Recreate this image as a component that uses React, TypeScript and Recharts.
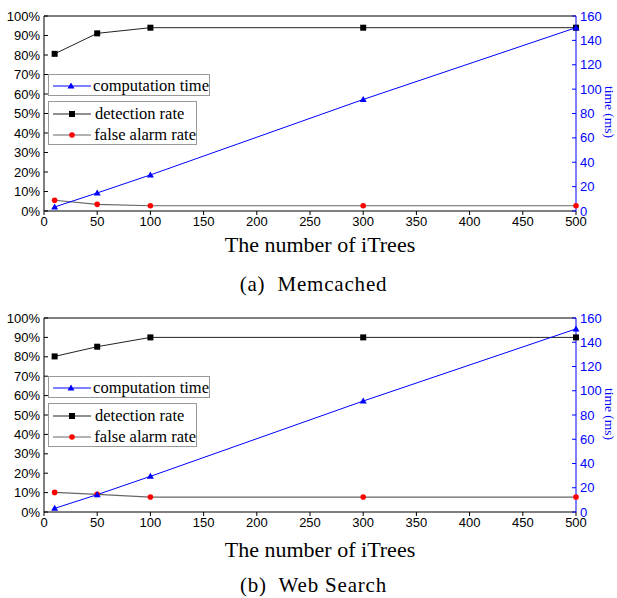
import React from 'react';
import { LineChart, Line, XAxis, YAxis, ReferenceLine } from 'recharts';

// number of iTrees
const treeCounts = [10, 50, 100, 300, 500];

// (a) Memcached
const memDetection = [80.6, 91.1, 94, 94, 94];
const memFalseAlarm = [5.5, 3.4, 2.7, 2.7, 2.7];
const memTime = [3.3, 14.8, 29.6, 91.5, 150.4];

// (b) Web Search
const webDetection = [80.2, 85.2, 90, 90, 90];
const webFalseAlarm = [10.1, 9.1, 7.7, 7.7, 7.7];
const webTime = [3, 14.3, 29.4, 91.5, 151];

const xTicks = [0, 50, 100, 150, 200, 250, 300, 350, 400, 450, 500];
const xMinorTicks = [25, 75, 125, 175, 225, 275, 325, 375, 425, 475];
const rateTicks = [0, 10, 20, 30, 40, 50, 60, 70, 80, 90, 100];
const rateMinorTicks = [5, 15, 25, 35, 45, 55, 65, 75, 85, 95];
const timeTicks = [0, 20, 40, 60, 80, 100, 120, 140, 160];
const timeMinorTicks = [10, 30, 50, 70, 90, 110, 130, 150];

const BLUE = '#0000ff';
const sans = '"Liberation Sans", Arial, sans-serif';
const serif = '"Liberation Serif", "Times New Roman", serif';
const blank = () => '';

const SquareDot = (p: any) => (
  <rect key={p.key} x={p.cx - 3} y={p.cy - 3} width={6} height={6} fill="#000" />
);
const CircleDot = (p: any) => <circle key={p.key} cx={p.cx} cy={p.cy} r={2.8} fill="#ff0000" />;
const TriangleDot = (p: any) => (
  <path key={p.key} d={`M${p.cx},${p.cy - 3.5}L${p.cx + 3.5},${p.cy + 2.5}L${p.cx - 3.5},${p.cy + 2.5}Z`} fill={BLUE} />
);

const LegendRow: React.FC<{ color: string; marker: React.ReactNode; label: string }> = ({ color, marker, label }) => (
  <div style={{ display: 'flex', alignItems: 'center', height: 21 }}>
    <svg width={42} height={10} style={{ marginLeft: 2 }}>
      <line x1={2} y1={5} x2={40} y2={5} stroke={color} strokeWidth={1.2} />
      {marker}
    </svg>
    <span style={{ fontFamily: serif, fontSize: 16.5, marginLeft: 2, whiteSpace: 'nowrap' }}>{label}</span>
  </div>
);

const Legends: React.FC<{ top: number }> = ({ top }) => (
  <>
    <div style={{ position: 'absolute', left: 48, top, width: 162, height: 22, border: '1px solid #999', boxSizing: 'border-box' }}>
      <LegendRow color={BLUE} label="computation time" marker={<path d="M20,1.5L23.5,7.5L16.5,7.5Z" fill={BLUE} />} />
    </div>
    <div style={{ position: 'absolute', left: 48, top: top + 27, width: 149, height: 44, border: '1px solid #999', boxSizing: 'border-box', paddingTop: 1 }}>
      <LegendRow color="#222" label="detection rate" marker={<rect x={18} y={2} width={6} height={6} fill="#000" />} />
      <LegendRow color="#666" label="false alarm rate" marker={<circle cx={21} cy={5} r={2.8} fill="#ff0000" />} />
    </div>
  </>
);

const Panel: React.FC<{
  top: number;
  height: number;
  marginTop: number;
  marginBottom: number;
  detection: number[];
  falseAlarm: number[];
  time: number[];
  caption: string;
  legendTop: number;
  titleTop: number;
  captionTop: number;
}> = ({ top, height, marginTop, marginBottom, detection, falseAlarm, time, caption, legendTop, titleTop, captionTop }) => {
  const data = treeCounts.map((n, i) => ({
    n,
    detection: detection[i],
    falseAlarm: falseAlarm[i],
    time: time[i],
  }));
  return (
    <div style={{ position: 'absolute', left: 0, top, width: 617, height }}>
      <LineChart width={617} height={height} data={data} margin={{ top: marginTop, right: 0, bottom: marginBottom, left: 0 }}>
        {/* minor ticks */}
        <XAxis
          xAxisId="minor"
          type="number"
          domain={[0, 500]}
          ticks={xMinorTicks}
          height={0}
          axisLine={false}
          stroke="#000"
          tickSize={2}
          tickFormatter={blank}
          interval={0}
        />
        <YAxis
          yAxisId="rateMinor"
          domain={[0, 100]}
          ticks={rateMinorTicks}
          width={0}
          axisLine={false}
          stroke="#000"
          tickSize={-2}
          tickFormatter={blank}
          interval={0}
        />
        <YAxis
          yAxisId="timeMinor"
          orientation="right"
          domain={[0, 160]}
          ticks={timeMinorTicks}
          width={0}
          axisLine={false}
          stroke={BLUE}
          tickSize={-2}
          tickFormatter={blank}
          interval={0}
        />
        <XAxis
          dataKey="n"
          type="number"
          domain={[0, 500]}
          ticks={xTicks}
          height={30}
          stroke="#000"
          tickSize={4}
          tick={{ fill: '#000', fontSize: 13, fontFamily: sans }}
          interval={0}
        />
        <YAxis
          yAxisId="rate"
          domain={[0, 100]}
          ticks={rateTicks}
          width={44}
          stroke="#000"
          tickSize={-4}
          tickMargin={8}
          interval={0}
          tickFormatter={(v) => `${v}%`}
          tick={{ fill: '#000', fontSize: 13, fontFamily: sans }}
        />
        <YAxis
          yAxisId="time"
          orientation="right"
          domain={[0, 160]}
          ticks={timeTicks}
          width={41}
          stroke={BLUE}
          tickSize={-4}
          tickMargin={8}
          interval={0}
          tick={{ fill: BLUE, fontSize: 13, fontFamily: sans }}
        />
        <ReferenceLine yAxisId="rate" y={100} stroke="#000" strokeWidth={1} />
        <Line yAxisId="rate" dataKey="detection" stroke="#222" strokeWidth={1} dot={SquareDot} isAnimationActive={false} />
        <Line yAxisId="rate" dataKey="falseAlarm" stroke="#666" strokeWidth={1.2} dot={CircleDot} isAnimationActive={false} />
        <Line yAxisId="time" dataKey="time" stroke={BLUE} strokeWidth={1} dot={TriangleDot} isAnimationActive={false} />
      </LineChart>
      <Legends top={legendTop} />
      <div
        style={{
          position: 'absolute',
          left: 601,
          top: marginTop + 70,
          writingMode: 'vertical-rl',
          color: BLUE,
          fontFamily: serif,
          fontSize: 13.5,
          whiteSpace: 'nowrap',
        }}
      >
        time (ms)
      </div>
      <div style={{ position: 'absolute', left: 0, width: 640, top: titleTop, textAlign: 'center', fontFamily: serif, fontSize: 22 }}>
        The number of iTrees
      </div>
      <div
        style={{
          position: 'absolute',
          left: 0,
          width: 627,
          top: captionTop,
          textAlign: 'center',
          fontFamily: serif,
          fontSize: 21,
          letterSpacing: 0.8,
          whiteSpace: 'pre',
        }}
      >
        {caption}
      </div>
    </div>
  );
};

const App: React.FC = () => (
  <div style={{ position: 'absolute', left: 0, top: 0, width: 617, height: 598, background: '#fff', overflow: 'hidden' }}>
    <Panel
      top={0}
      height={300}
      marginTop={16}
      marginBottom={59}
      detection={memDetection}
      falseAlarm={memFalseAlarm}
      time={memTime}
      caption="(a)  Memcached"
      legendTop={74}
      titleTop={232}
      captionTop={272}
    />
    <Panel
      top={300}
      height={298}
      marginTop={18}
      marginBottom={56}
      detection={webDetection}
      falseAlarm={webFalseAlarm}
      time={webTime}
      caption="(b)  Web Search"
      legendTop={76}
      titleTop={237}
      captionTop={273}
    />
  </div>
);

export default App;
